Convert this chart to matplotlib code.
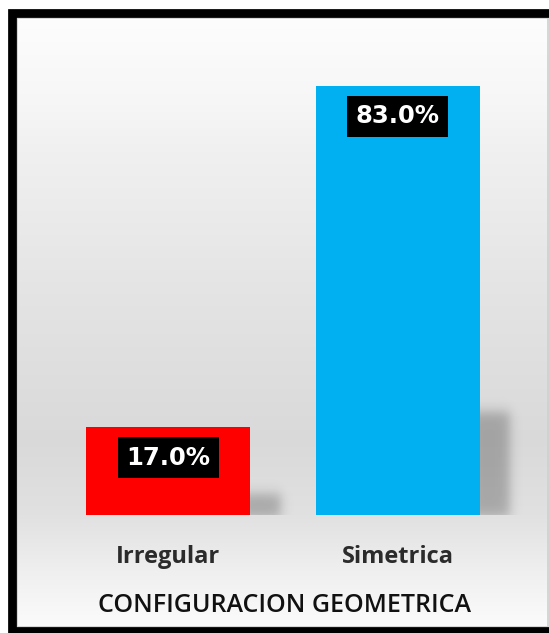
import numpy as np
import matplotlib
matplotlib.use("Agg")
import matplotlib.pyplot as plt

# data
categories = ["Irregular", "Simetrica"]
percentages = [17.0, 83.0]
bar_colors = ["#ff0000", "#00b0f0"]
axis_title = "CONFIGURACION GEOMETRICA"

W, H = 549, 633
fig = plt.figure(figsize=(W / 100, H / 100), dpi=100)

# background layer in pixel units: gradient fill + black frame
bg = fig.add_axes([0, 0, 1, 1])
bg.axis("off")

stops_y = [17, 100, 150, 300, 440, 515, 560, 610, 627]
stops_v = [0.99, 0.965, 0.94, 0.89, 0.85, 0.88, 0.925, 0.97, 0.985]
yy = np.arange(17, 627)
shade = np.interp(yy + 0.5, stops_y, stops_v)
bg.barh(yy + 0.5, W + 10 - 16, left=16, height=1.02,
        color=[(s, s, s) for s in shade], linewidth=0, zorder=0)

# thin light rim inside the frame
bg.plot([16.5, 547.5, 547.5, 16.5, 16.5], [17.5, 17.5, 626.5, 626.5, 17.5],
        color="#d0d0d0", lw=1.2, zorder=1)
# thick black frame (top, left, bottom); right side runs off the canvas
bg.plot([W + 5, 11.5, 11.5, W + 5], [13, 13, 630.5, 630.5],
        color="black", lw=6.3, solid_joinstyle="miter", zorder=2)
bg.set_xlim(0, W)
bg.set_ylim(H, 0)

# bar axes
x_left, x_right, y_base, y_top = 16, 547, 515, 17
ax = fig.add_axes([x_left / W, (H - y_base) / H,
                   (x_right - x_left) / W, (y_base - y_top) / H])
ax.patch.set_alpha(0)
for s in ax.spines.values():
    s.set_visible(False)

x = np.arange(len(categories))
width = 0.715
pitch = 229.3  # pixels between bar centres
xlim = ((x_left - 168.4) / pitch, 1 + (x_right - 397.7) / pitch)
ylim = (0, 83.0 * (y_base - y_top) / (y_base - 86))
ax.set_yticks([])
ax.set_xticks([])

ax.bar(x, percentages, width=width, color=bar_colors, zorder=3)


def soft(t, a, b, k):
    return 0.5 * (np.tanh((t - a) / k) - np.tanh((t - b) / k))


# soft drop shadow to the right of each bar
for xi, v in zip(x, percentages):
    x0 = xi + width / 2
    sx = np.linspace(x0 - 0.02, x0 + 0.26, 140)
    sy = np.linspace(-4, 0.25 * v + 6, 220)
    X, Y = np.meshgrid(sx, sy)
    a = 0.25 * soft(X, x0 - 0.05, x0 + 0.13, 0.028) * soft(Y, -0.5, 0.24 * v, 1.4)
    img = np.zeros(a.shape + (4,))
    img[..., 3] = a
    ax.imshow(img, extent=(sx[0], sx[-1], sy[0], sy[-1]), origin="lower",
              aspect="auto", zorder=2, interpolation="bilinear")

ax.set_xlim(*xlim)
ax.set_ylim(*ylim)

for xi, v in zip(x, percentages):
    ax.text(xi, v - 5.9, f"{v:.1f}%", ha="center", va="center",
            color="white", fontsize=17.5, fontweight="bold", family="DejaVu Sans",
            bbox=dict(boxstyle="square,pad=0.36", facecolor="black",
                      edgecolor="none"), zorder=5)

for xi, c in zip(x, categories):
    ax.text(xi, -8.2, c, ha="center", va="center", color="#2b2b2b",
            fontsize=17, fontweight="bold", family="Open Sans")

fig.text(284.5 / W, 1 - 606 / H, axis_title, ha="center", va="center",
         color="#111111", fontsize=18, fontweight="semibold", family="Open Sans")

fig.savefig("out.png", dpi=100)
